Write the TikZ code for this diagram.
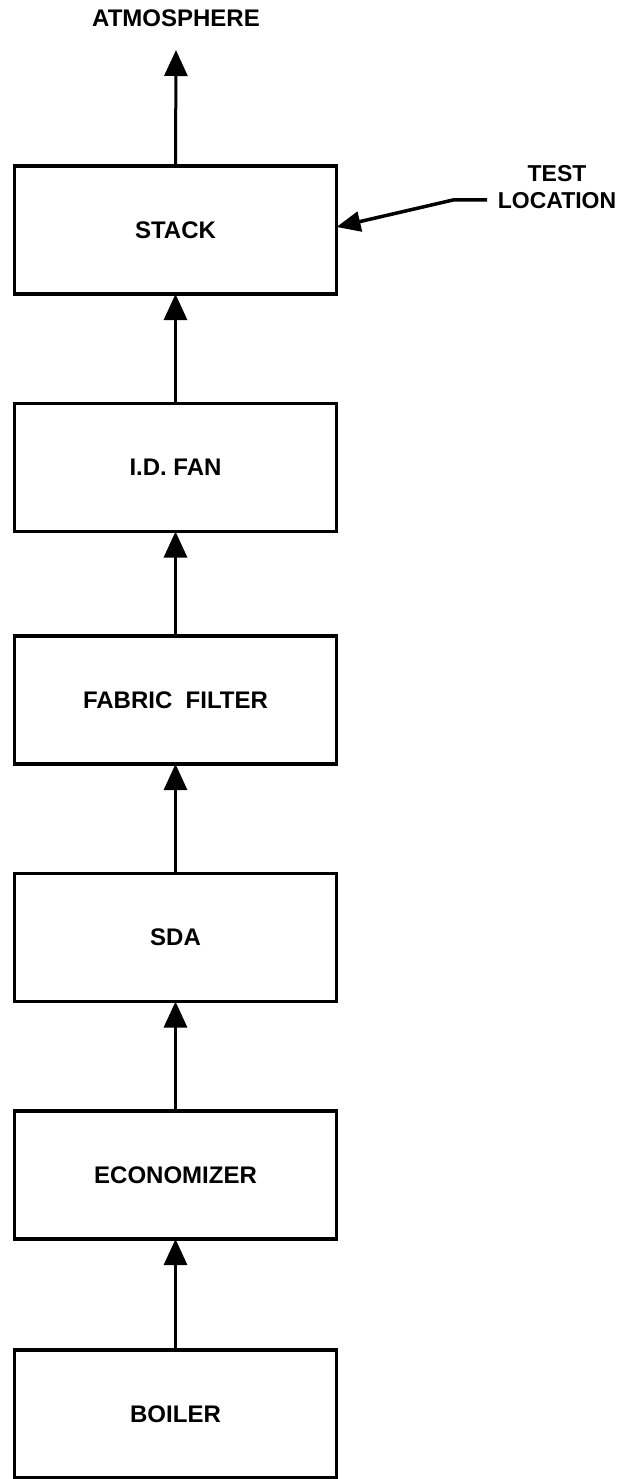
\documentclass[tikz,border=0pt]{standalone}
\usepackage{fontspec}
\setmainfont{Liberation Sans}
\usetikzlibrary{arrows.meta}
\begin{document}
\begin{tikzpicture}[x=1pt,y=-1pt,
  box/.style={draw=black, line width=3.5pt, minimum width=322pt, minimum height=128pt, inner sep=0pt, outer sep=0pt,
    font=\fontsize{24}{27}\selectfont\bfseries},
  lbl/.style={font=\fontsize{24}{27}\selectfont\bfseries, inner sep=0pt},
  arr/.style={line width=3pt, -{Triangle[length=26pt,width=23pt]}},
  lead/.style={line width=3.5pt, -{Triangle[length=24pt,width=20pt]}}]
\useasboundingbox[fill=white] (0,0) rectangle (627,1479);
\node[box] (stack) at (175.5,230) {STACK};
\node[box] (fan) at (175.5,467.5) {I.D. FAN};
\node[box] (ff) at (175.5,700) {FABRIC\ \ FILTER};
\node[box] (sda) at (175.5,937.5) {SDA};
\node[box] (econ) at (175.5,1175) {ECONOMIZER};
\node[box] (boiler) at (175.5,1414) {BOILER};
\node[lbl] (atm) at (176,18) {ATMOSPHERE};
\coordinate (atmtip) at (176,50);
\node[lbl, align=center, font=\fontsize{23}{27}\selectfont\bfseries] (test) at (557,187) {TEST\\LOCATION};
\coordinate (tl) at (487,200);
\coordinate (bend) at (453,200);
\draw[arr] (stack.north) -- (atmtip);
\draw[arr] (fan.north) -- (stack.south);
\draw[arr] (ff.north) -- (fan.south);
\draw[arr] (sda.north) -- (ff.south);
\draw[arr] (econ.north) -- (sda.south);
\draw[arr] (boiler.north) -- (econ.south);
\draw[lead] (tl) -- (bend) -- ([yshift=3pt]stack.east);
\end{tikzpicture}
\end{document}
